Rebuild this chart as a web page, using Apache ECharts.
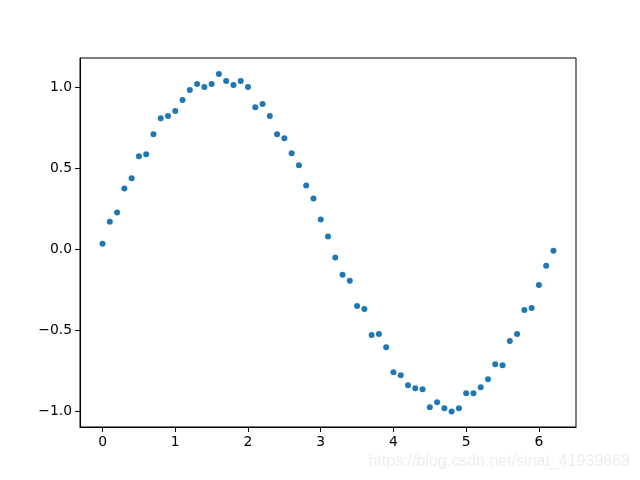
<!DOCTYPE html>
<html>
<head>
<meta charset="utf-8">
<script src="https://cdn.jsdelivr.net/npm/echarts@6/dist/echarts.min.js"></script>
<style>html,body{margin:0;padding:0;background:#fff;}#c{width:640px;height:480px;}</style>
</head>
<body>
<div id="c"></div>
<script>
var xValues = [0.0,0.1,0.2,0.3,0.4,0.5,0.6,0.7,0.8,0.9,1.0,1.1,1.2,1.3,1.4,1.5,1.6,1.7,1.8,1.9,2.0,
  2.1,2.2,2.3,2.4,2.5,2.6,2.7,2.8,2.9,3.0,3.1,3.2,3.3,3.4,3.5,3.6,3.7,3.8,3.9,4.0,4.1,
  4.2,4.3,4.4,4.5,4.6,4.7,4.8,4.9,5.0,5.1,5.2,5.3,5.4,5.5,5.6,5.7,5.8,5.9,6.0,6.1,6.2];
var yValues = [0.035,0.171,0.227,0.376,0.438,0.574,0.586,0.710,0.809,0.822,0.853,0.921,0.983,1.020,1.001,1.020,1.082,1.038,1.014,1.038,1.001,
  0.877,0.896,0.822,0.710,0.685,0.593,0.518,0.394,0.314,0.184,0.079,-0.050,-0.157,-0.194,-0.349,-0.367,-0.528,-0.522,-0.603,-0.757,-0.776,
  -0.838,-0.856,-0.863,-0.974,-0.943,-0.980,-0.999,-0.980,-0.887,-0.887,-0.850,-0.801,-0.708,-0.714,-0.565,-0.522,-0.373,-0.361,-0.219,-0.101,-0.008];
var xTicks = [0,1,2,3,4,5,6];
var yTicks = [-1.0,-0.5,0.0,0.5,1.0];
var watermark = 'https://blog.csdn.net/sinat_41939868';

var points = xValues.map(function(x,i){return [x,yValues[i]];});
var chart = echarts.init(document.getElementById('c'), null, {renderer:'canvas'});
chart.setOption({
  animation:false,
  backgroundColor:'#fff',
  grid:{left:80,right:64,top:58,bottom:53,show:true,borderColor:'#000',borderWidth:1,backgroundColor:'transparent'},
  xAxis:{
    type:'value',min:-0.31,max:6.51,
    axisLine:{show:true,onZero:false,lineStyle:{color:'#000',width:1}},
    splitLine:{show:false},
    axisTick:{show:true,length:5,lineStyle:{color:'#000',width:1},customValues:xTicks},
    axisLabel:{color:'#000',fontFamily:'DejaVu Sans',fontSize:13.9,margin:8,customValues:xTicks,
      formatter:function(v){return String(Math.round(v));}}
  },
  yAxis:{
    type:'value',min:-1.095,max:1.18,
    axisLine:{show:true,onZero:false,lineStyle:{color:'#000',width:1}},
    splitLine:{show:false},
    axisTick:{show:true,length:5,lineStyle:{color:'#000',width:1},customValues:yTicks},
    axisLabel:{color:'#000',fontFamily:'DejaVu Sans',fontSize:13.9,margin:8,customValues:yTicks,
      formatter:function(v){return (v<0?'\u2212':'')+Math.abs(v).toFixed(1);}}
  },
  graphic:[{type:'text',right:10,bottom:10,style:{text:watermark,fill:'#ededed',font:'16px "Liberation Sans", Arial, sans-serif'}}],
  series:[{type:'scatter',data:points,symbol:'circle',symbolSize:6,itemStyle:{color:'#1f77b4',opacity:1}}]
});
</script>
</body>
</html>
